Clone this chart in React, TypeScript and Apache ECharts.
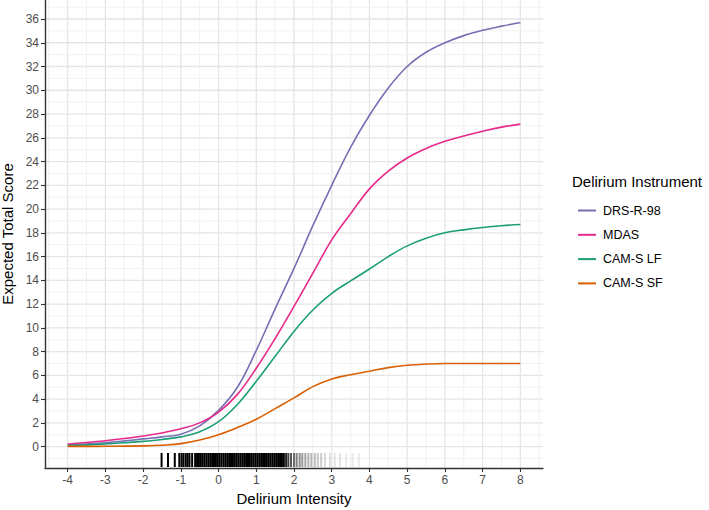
import React, { useEffect, useRef } from "react";
import * as echarts from "echarts";

// Latent trait grid (x) at which curves were read
const intensity = [-4, -3.5, -3, -2.5, -2, -1.5, -1, -0.5, 0, 0.5, 1, 1.5, 2, 2.5, 3, 3.5, 4, 4.5, 5, 5.5, 6, 6.5, 7, 7.5, 8];

const drsR98 = [0.12, 0.22, 0.33, 0.48, 0.65, 0.82, 1.05, 1.75, 3.05, 5.0, 8.1, 11.6, 15.0, 18.6, 22.0, 25.2, 27.9, 30.2, 32.0, 33.2, 34.0, 34.6, 35.05, 35.4, 35.7];
const mdas = [0.22, 0.35, 0.5, 0.68, 0.9, 1.15, 1.5, 2.0, 2.9, 4.4, 6.6, 9.1, 11.8, 14.6, 17.4, 19.6, 21.7, 23.2, 24.3, 25.1, 25.7, 26.15, 26.55, 26.9, 27.15];
const camSLF = [0.1, 0.15, 0.22, 0.32, 0.44, 0.6, 0.82, 1.25, 2.1, 3.55, 5.5, 7.6, 9.7, 11.5, 12.9, 13.95, 14.95, 16.0, 16.9, 17.55, 18.0, 18.25, 18.45, 18.6, 18.7];
const camSSF = [0.02, 0.02, 0.03, 0.04, 0.06, 0.12, 0.25, 0.55, 1.0, 1.6, 2.3, 3.2, 4.1, 5.05, 5.7, 6.05, 6.35, 6.65, 6.85, 6.95, 7.0, 7.0, 7.0, 7.0, 7.0];

const seriesNames = ["DRS-R-98", "MDAS", "CAM-S LF", "CAM-S SF"];
const seriesColors = ["#7570B3", "#E7298A", "#1B9E77", "#D95F02"];

// Axis ticks and grid lines
const xTicks = [-4, -3, -2, -1, 0, 1, 2, 3, 4, 5, 6, 7, 8];
const xMinor = [-4.5, -3.5, -2.5, -1.5, -0.5, 0.5, 1.5, 2.5, 3.5, 4.5, 5.5, 6.5, 7.5, 8.5];
const yTicks = [0, 2, 4, 6, 8, 10, 12, 14, 16, 18, 20, 22, 24, 26, 28, 30, 32, 34, 36];
const yMinor = [-1, 1, 3, 5, 7, 9, 11, 13, 15, 17, 19, 21, 23, 25, 27, 29, 31, 33, 35, 37];

// Rug of observed intensity estimates (position, darkness)
const rugX = [-1.51, -1.34, -1.16, -1.04, -0.98, -0.93, -0.87, -0.82, -0.77, -0.7, -0.62, -0.57, -0.52, -0.47, -0.42, -0.37, -0.32, -0.27, -0.22, -0.17, -0.12, -0.07, -0.02, 0.03, 0.08, 0.13, 0.18, 0.23, 0.28, 0.33, 0.38, 0.43, 0.48, 0.53, 0.58, 0.63, 0.68, 0.73, 0.78, 0.83, 0.88, 0.93, 0.98, 1.03, 1.08, 1.13, 1.18, 1.23, 1.28, 1.33, 1.38, 1.43, 1.48, 1.53, 1.58, 1.63, 1.68, 1.73, 1.79, 1.85, 1.92, 2.0, 2.07, 2.15, 2.22, 2.3, 2.38, 2.46, 2.55, 2.63, 2.72, 2.82, 2.95, 3.08, 3.22, 3.38, 3.55, 3.72];
const rugAlpha = [1, 1, 1, 1, 1, 1, 1, 1, 1, 1, 1, 1, 1, 1, 1, 1, 1, 1, 1, 1, 1, 1, 1, 1, 1, 1, 1, 1, 1, 1, 1, 1, 1, 1, 1, 1, 1, 1, 1, 1, 1, 1, 1, 1, 1, 1, 1, 1, 1, 1, 1, 1, 1, 1, 1, 1, 1, 1, 0.85, 0.75, 0.65, 0.55, 0.5, 0.45, 0.4, 0.35, 0.3, 0.28, 0.25, 0.22, 0.2, 0.15, 0.12, 0.1, 0.1, 0.08, 0.08, 0.08];

const X_MIN = -4.6;
const X_MAX = 8.6;
const Y_MIN = -1.8;
const Y_MAX = 37.6;

const FONT = "Liberation Sans, Arial, Helvetica, sans-serif";

export default function App() {
  const ref = useRef<HTMLDivElement>(null);

  useEffect(() => {
    document.body.style.margin = "0";
    const chart = echarts.init(ref.current!, null, { renderer: "svg" });

    const gridData: number[][] = [];
    xTicks.forEach((v) => gridData.push([v, 0, 1]));
    xMinor.forEach((v) => gridData.push([v, 0, 0]));
    yTicks.forEach((v) => gridData.push([v, 1, 1]));
    yMinor.forEach((v) => gridData.push([v, 1, 0]));

    const allCurves = [drsR98, mdas, camSLF, camSSF];

    const option: any = {
      animation: false,
      textStyle: { fontFamily: FONT },
      grid: { left: 45, right: 166, top: 0, bottom: 42, containLabel: false, outerBoundsMode: "none" },
      xAxis: {
        type: "value",
        min: X_MIN,
        max: X_MAX,
        name: "Delirium Intensity",
        nameLocation: "middle",
        nameGap: 22,
        nameTextStyle: { fontSize: 15, color: "#000", fontFamily: FONT, verticalAlign: "top" },
        axisLine: { show: true, onZero: false, lineStyle: { color: "#333", width: 1.4 } },
        axisTick: { show: true, length: 4, lineStyle: { color: "#333", width: 1.1 }, customValues: xTicks },
        axisLabel: { color: "#4D4D4D", fontSize: 12, margin: 6, customValues: xTicks, fontFamily: FONT },
        splitLine: { show: false },
      },
      yAxis: {
        type: "value",
        min: Y_MIN,
        max: Y_MAX,
        name: "Expected Total Score",
        nameLocation: "middle",
        nameGap: 23,
        nameTextStyle: { fontSize: 15, color: "#000", fontFamily: FONT },
        axisLine: { show: true, onZero: false, lineStyle: { color: "#333", width: 1.4 } },
        axisTick: { show: true, length: 4, lineStyle: { color: "#333", width: 1.1 }, customValues: yTicks },
        axisLabel: { color: "#4D4D4D", fontSize: 12, margin: 6, customValues: yTicks, fontFamily: FONT },
        splitLine: { show: false },
      },
      legend: {
        orient: "vertical",
        left: 572,
        top: 199,
        itemWidth: 18,
        itemHeight: 14,
        itemGap: 11.3,
        data: seriesNames,
        itemStyle: { opacity: 0 },
        textStyle: { fontSize: 12.5, color: "#000", fontFamily: FONT, padding: [0, 0, 0, 2] },
      },
      graphic: [
        {
          type: "text",
          left: 572,
          top: 174,
          style: { text: "Delirium Instrument", fontSize: 15, fill: "#000", fontFamily: FONT },
        },
      ],
      series: [
        {
          type: "custom",
          name: "grid",
          silent: true,
          z: 0,
          clip: true,
          data: gridData,
          renderItem: (params: any, api: any) => {
            const cs = params.coordSys;
            const v = api.value(0);
            const isY = api.value(1) === 1;
            const major = api.value(2) === 1;
            const style = { stroke: major ? "#E5E5E5" : "#EFEFEF", lineWidth: major ? 1.3 : 0.9 };
            if (!isY) {
              const p = api.coord([v, 0]);
              return { type: "line", shape: { x1: p[0], y1: cs.y, x2: p[0], y2: cs.y + cs.height }, style };
            }
            const p = api.coord([0, v]);
            return { type: "line", shape: { x1: cs.x, y1: p[1], x2: cs.x + cs.width, y2: p[1] }, style };
          },
        },
        {
          type: "custom",
          name: "rug",
          silent: true,
          z: 1,
          data: rugX.map((x, i) => [x, rugAlpha[i]]),
          renderItem: (params: any, api: any) => {
            const p = api.coord([api.value(0), Y_MIN]);
            return {
              type: "line",
              shape: { x1: p[0], y1: p[1] - 1, x2: p[0], y2: p[1] - 15 },
              style: { stroke: "#000", lineWidth: 2, opacity: api.value(1) },
            };
          },
        },
        ...seriesNames.map((name, i) => ({
          type: "line",
          name,
          z: 3,
          smooth: 0.4,
          symbol: "none",
          showSymbol: false,
          color: seriesColors[i],
          lineStyle: { color: seriesColors[i], width: 1.6 },
          data: intensity.map((x, j) => [x, allCurves[i][j]]),
        })),
      ],
    };

    chart.setOption(option);
    return () => chart.dispose();
  }, []);

  return <div ref={ref} style={{ width: 709, height: 510 }} />;
}
